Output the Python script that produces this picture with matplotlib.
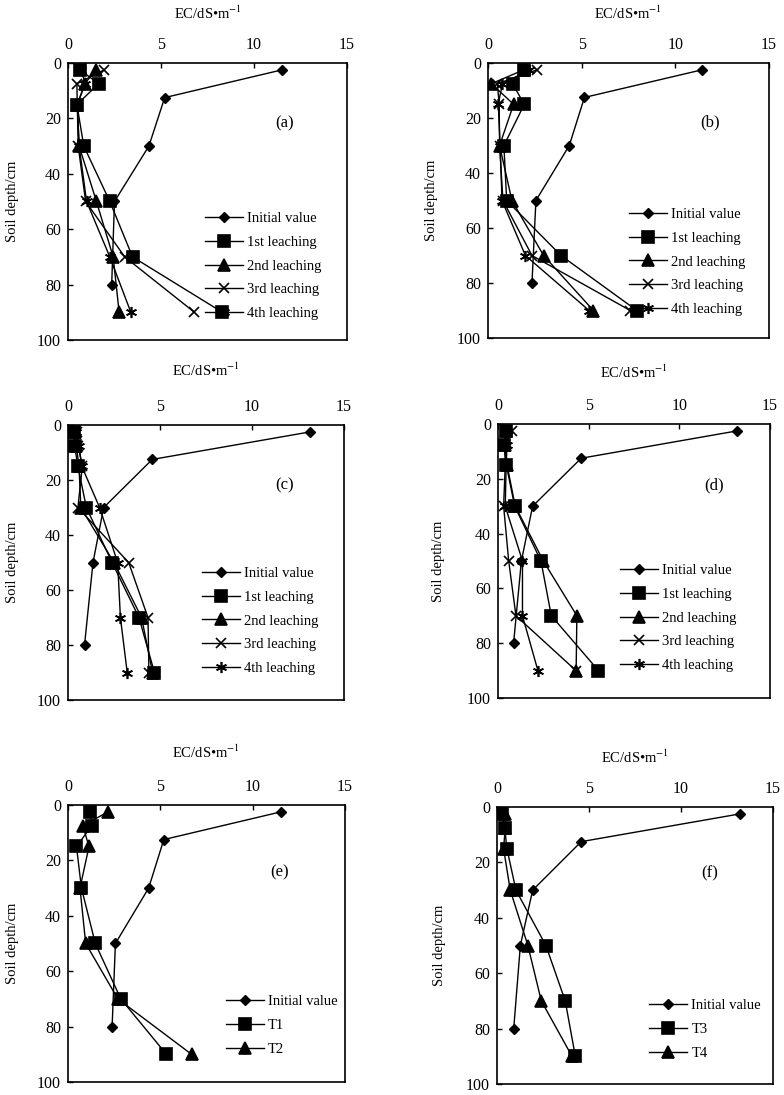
import matplotlib
matplotlib.use('Agg')
import matplotlib.pyplot as plt

plt.rcParams['font.family'] = ['Liberation Serif', 'DejaVu Serif']
plt.rcParams['mathtext.fontset'] = 'stix'

# soil depths (cm)
depth_init = [2.5, 12.5, 30, 50, 80]
depth_leach = [2.5, 7.5, 15, 30, 50, 70, 90]

# panel (a)
a_initial = [11.5, 5.2, 4.35, 2.5, 2.35]
a_1st = [0.65, 1.65, 0.48, 0.85, 2.25, 3.47, 8.3]
a_2nd = [1.5, 0.9, 0.5, 0.6, 1.53, 2.43, 2.75]
a_3rd = [1.95, 0.48, 0.5, 0.55, 0.95, 3.05, 6.8]
a_4th = [0.7, 0.93, 0.5, 0.6, 1.0, 2.25, 3.38]

# panel (b)
b_initial = [11.4, 5.15, 4.34, 2.56, 2.35]
b_1st = [1.95, 1.31, 1.94, 0.85, 1.0, 3.9, 7.95]
b_2nd = [1.9, 0.18, 1.37, 0.62, 1.28, 2.97, 5.63]
b_3rd = [2.6, 0.5, 0.6, 0.62, 0.8, 2.35, 7.6]
b_4th = [2.2, 0.77, 0.55, 0.65, 0.75, 2.0, 5.4]

# panel (c)
c_initial = [13.14, 4.58, 1.94, 1.36, 0.9]
c_1st = [0.31, 0.36, 0.54, 1.0, 2.4, 3.86, 4.7]
c_2nd = [0.4, 0.45, 0.6, 0.7, 2.5, 4.0, 4.6]
c_3rd = [0.5, 0.55, 0.78, 0.54, 3.3, 4.35, 4.4]
c_4th = [0.45, 0.6, 0.75, 1.72, 2.7, 2.85, 3.22]

# panel (d)
d_initial = [13.2, 4.59, 1.91, 1.29, 0.86]
d_1st = [0.46, 0.31, 0.46, 0.92, 2.37, 2.94, 5.54]
d_2nd = [0.45, 0.4, 0.5, 0.95, 2.5, 4.35, 4.31]
d_3rd = [0.77, 0.4, 0.4, 0.31, 0.59, 0.99, 4.3]
d_4th = [0.5, 0.5, 0.45, 0.4, 1.35, 1.35, 2.2]

# panel (e)
e_initial = [11.53, 5.19, 4.37, 2.57, 2.39]
e_t1 = [1.2, 1.29, 0.46, 0.73, 1.48, 2.86, 5.33]
e_t2 = [2.17, 0.8, 1.14, 0.65, 0.96, 2.7, 6.69]

# panel (f)
f_initial = [13.19, 4.58, 1.94, 1.27, 0.91]
f_t3 = [0.27, 0.42, 0.54, 1.03, 2.66, 3.71, 4.26]
f_t4 = [0.45, 0.45, 0.36, 0.72, 1.68, 2.41, 4.08]

leach_labels = ['1st leaching', '2nd leaching', '3rd leaching', '4th leaching']

MARKERS = [('s', 8.5), ('^', 8.5), ('x', 7), ((6, 2, 0), 8)]


def draw_panel(fig, rect, initial, series, labels, tag, tag_pos, leg_pos, xlab_y, ylab_x):
    ax = fig.add_axes(rect)
    ax.plot(initial, depth_init, color='black', lw=1.0, marker='D', ms=5.5,
            label='Initial value')
    for vals, lab, (mk, ms) in zip(series, labels, MARKERS):
        ax.plot(vals, depth_leach, color='black', lw=1.0, marker=mk, ms=ms,
                mew=1.2, label=lab)
    ax.set_xlim(0, 15)
    ax.set_ylim(100, 0)
    ax.set_xticks([0, 5, 10, 15])
    ax.set_yticks([0, 20, 40, 60, 80, 100])
    ax.xaxis.tick_top()
    ax.tick_params(axis='both', direction='in', length=3.5, width=1.0,
                   labelsize=11.5, pad=5)
    ax.tick_params(axis='x', pad=7)
    for sp in ax.spines.values():
        sp.set_linewidth(1.2)
    ax.text(0.5, xlab_y, r'EC/dS•m$^{-1}$', transform=ax.transAxes,
            ha='center', va='center', fontsize=10.5)
    ax.text(ylab_x, 0.5, 'Soil depth/cm', transform=ax.transAxes, rotation=90,
            ha='center', va='center', fontsize=10.5)
    ax.text(tag_pos[0], tag_pos[1], tag, transform=ax.transAxes,
            ha='center', va='center', fontsize=12)
    ax.legend(loc='upper left', bbox_to_anchor=leg_pos, frameon=False,
              fontsize=10.5, handlelength=2.6, handletextpad=0.3,
              labelspacing=0.72, borderpad=0, borderaxespad=0)
    return ax


fig = plt.figure(figsize=(7.84, 10.95), dpi=100)

draw_panel(fig, [0.0867, 0.6895, 0.3559, 0.2530], a_initial,
           [a_1st, a_2nd, a_3rd, a_4th], leach_labels, '(a)',
           (0.778, 0.783), (0.491, 0.462), 1.18, -0.2)
draw_panel(fig, [0.6224, 0.6913, 0.3584, 0.2511], b_initial,
           [b_1st, b_2nd, b_3rd, b_4th], leach_labels, '(b)',
           (0.79, 0.785), (0.502, 0.473), 1.18, -0.2)
draw_panel(fig, [0.0867, 0.3607, 0.3520, 0.2511], c_initial,
           [c_1st, c_2nd, c_3rd, c_4th], leach_labels, '(c)',
           (0.786, 0.78), (0.486, 0.484), 1.2, -0.2)
draw_panel(fig, [0.6352, 0.3626, 0.3469, 0.2502], d_initial,
           [d_1st, d_2nd, d_3rd, d_4th], leach_labels, '(d)',
           (0.794, 0.777), (0.449, 0.489), 1.19, -0.22)
draw_panel(fig, [0.0867, 0.0119, 0.3533, 0.2530], e_initial,
           [e_t1, e_t2], ['T1', 'T2'], '(e)',
           (0.765, 0.755), (0.570, 0.314), 1.19, -0.2)
draw_panel(fig, [0.6339, 0.0100, 0.3520, 0.2530], f_initial,
           [f_t3, f_t4], ['T3', 'T4'], '(f)',
           (0.772, 0.762), (0.551, 0.307), 1.18, -0.21)

fig.savefig('out.png', dpi=100)
